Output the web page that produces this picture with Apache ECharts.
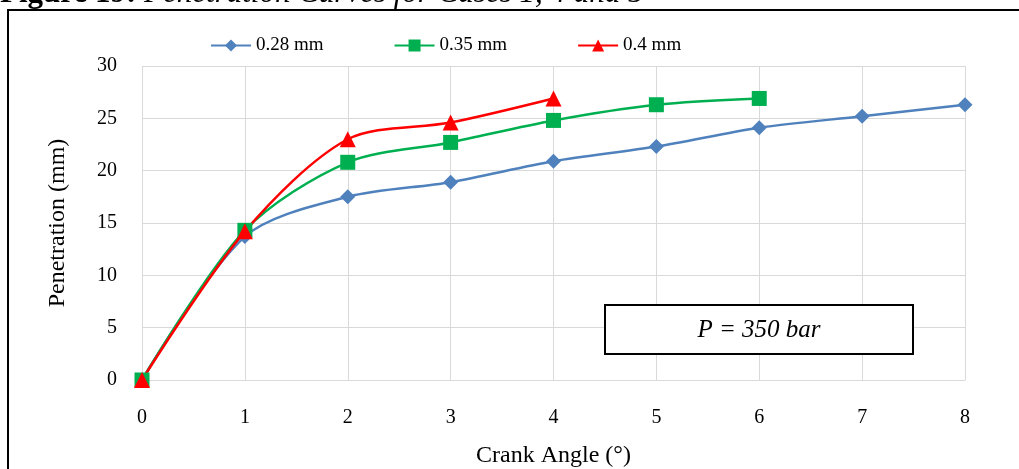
<!DOCTYPE html>
<html>
<head>
<meta charset="utf-8">
<script src="https://cdn.jsdelivr.net/npm/echarts@6/dist/echarts.min.js"></script>
<style>
	html, body { margin: 0; padding: 0; background: #fff; }
	#chart { width: 1019px; height: 469px; }
</style>
</head>
<body>
<div id="chart"></div>
<script>
// 曲线数据 (Crank Angle -> Penetration)
var angles = [0, 1, 2, 3, 4, 5, 6, 7, 8];
var pen028 = [0, 13.7, 17.5, 18.9, 20.9, 22.3, 24.1, 25.2, 26.3];
var pen035 = [0, 14.3, 20.8, 22.7, 24.8, 26.3, 26.9];
var pen04 = [0, 14.2, 23.0, 24.6, 26.9];
var seriesNames = ['0.28 mm', '0.35 mm', '0.4 mm'];

function pairs(vals) {
	var out = [];
	for (var i = 0; i < vals.length; i++) {
		out.push([angles[i], vals[i]]);
	}
	return out;
}

var serif = '"Liberation Serif", "DejaVu Serif", serif';

function mkSeries(name, vals, color, symbol, size) {
	return {
		name : name,
		type : 'line',
		smooth : 0.3,
		symbol : symbol,
		symbolSize : size,
		lineStyle : { color : color, width : 2.5 },
		itemStyle : { color : color },
		data : pairs(vals)
	};
}

var chart = echarts.init(document.getElementById('chart'));
var option = {
	animation : false,
	legend : {
		top : 31,
		left : 205,
		itemWidth : 40,
		itemHeight : 15,
		itemGap : 70,
		textStyle : { fontFamily : serif, fontSize : 19, color : '#000' },
		data : seriesNames
	},
	grid : {
		left : 142,
		right : 54,
		top : 66,
		bottom : 89,
		outerBoundsMode : 'none'
	},
	xAxis : {
		type : 'value',
		min : 0,
		max : 8,
		interval : 1,
		name : 'Crank Angle (°)',
		nameLocation : 'middle',
		nameGap : 64,
		nameTextStyle : { fontFamily : serif, fontSize : 24, color : '#000' },
		axisLine : { lineStyle : { color : '#d9d9d9', width : 1 } },
		axisTick : { show : false },
		axisLabel : { fontFamily : serif, fontSize : 20, color : '#000', margin : 28 },
		splitLine : { lineStyle : { color : '#d9d9d9' } }
	},
	yAxis : {
		type : 'value',
		min : 0,
		max : 30,
		interval : 5,
		name : 'Penetration (mm)',
		nameLocation : 'middle',
		nameGap : 72,
		nameTextStyle : { fontFamily : serif, fontSize : 24, color : '#000' },
		axisLine : { show : false },
		axisTick : { show : false },
		axisLabel : { fontFamily : serif, fontSize : 20, color : '#000', margin : 25 },
		splitLine : { lineStyle : { color : '#d9d9d9' } }
	},
	graphic : [ {
		type : 'rect',
		shape : { x : 8, y : 10, width : 1040, height : 500 },
		style : { fill : 'none', stroke : '#000', lineWidth : 2 },
		silent : true
	}, {
		type : 'text',
		x : 0,
		y : -6,
		style : {
			rich : {
				b : { fontFamily : serif, fontSize : 31, fontWeight : 'bold', fill : '#000' },
				i : { fontFamily : serif, fontSize : 31, fontStyle : 'italic', fill : '#000' }
			},
			text : '{b|Figure 19: }{i|Penetration Curves for Cases 1, 4 and 5}',
			verticalAlign : 'middle'
		}
	}, {
		type : 'rect',
		z : 10,
		shape : { x : 605, y : 305, width : 308, height : 49 },
		style : { fill : '#fff', stroke : '#000', lineWidth : 2 }
	}, {
		type : 'text',
		z : 11,
		x : 759,
		y : 330,
		style : {
			text : 'P = 350 bar',
			fontFamily : serif,
			fontSize : 25,
			fontStyle : 'italic',
			fill : '#000',
			align : 'center',
			verticalAlign : 'middle'
		}
	} ],
	series : [
		mkSeries(seriesNames[0], pen028, '#4f81bd', 'diamond', 15),
		mkSeries(seriesNames[1], pen035, '#00b050', 'rect', 15),
		mkSeries(seriesNames[2], pen04, '#ff0000', 'triangle', 16)
	]
};
chart.setOption(option, true);
</script>
</body>
</html>
